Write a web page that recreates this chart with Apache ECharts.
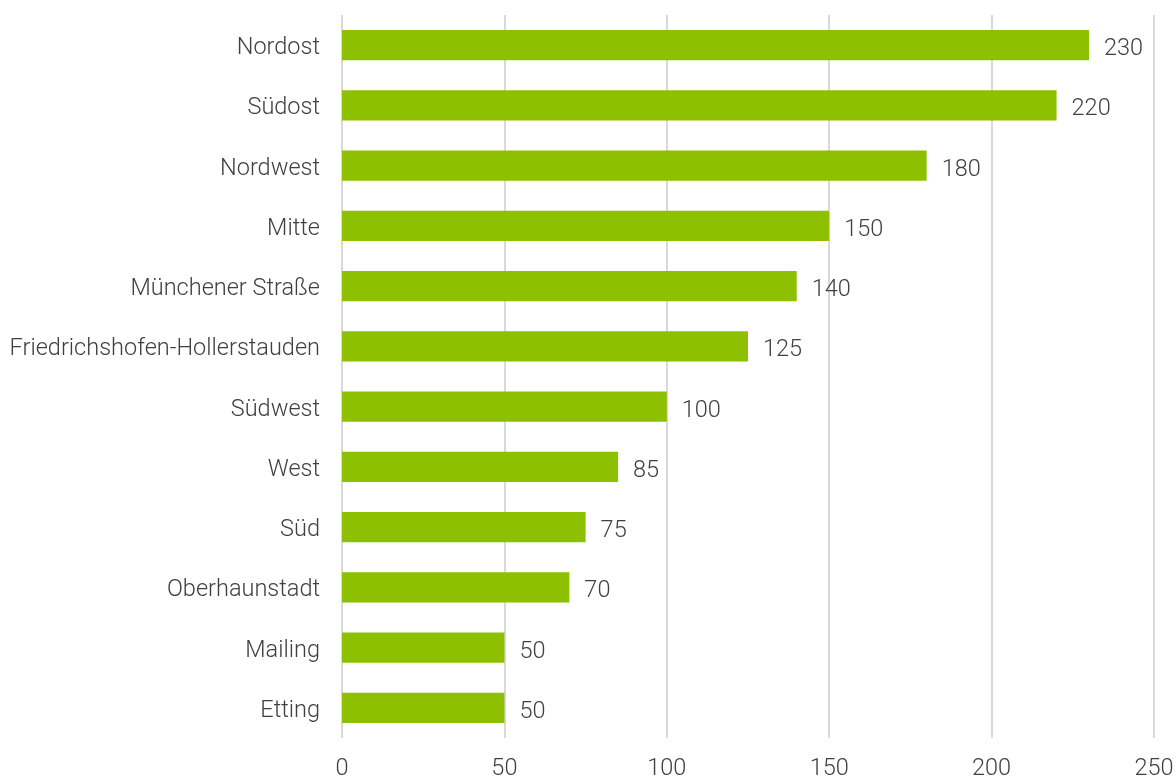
<!DOCTYPE html>
<html>
<head>
<meta charset="utf-8">
<script src="https://cdn.jsdelivr.net/npm/echarts@6/dist/echarts.min.js"></script>
<style>
html, body { margin: 0; padding: 0; background: #fff; }
#chart { width: 1176px; height: 778px; }
</style>
</head>
<body>
<div id="chart"></div>
<script>
var categories = ['Etting', 'Mailing', 'Oberhaunstadt', 'Süd', 'West', 'Südwest',
	'Friedrichshofen-Hollerstauden', 'Münchener Straße', 'Mitte', 'Nordwest', 'Südost', 'Nordost'];
var values = [50, 50, 70, 75, 85, 100, 125, 140, 150, 180, 220, 230];
var xTicks = [0, 50, 100, 150, 200, 250];

var textColor = '#404040';
var font = 'Roboto, "Liberation Sans", sans-serif';

var chart = echarts.init(document.getElementById('chart'));
var option = {
	animation: false,
	grid: {
		left: 342,
		right: 22,
		top: 15,
		bottom: 40,
		outerBoundsMode: 'none'
	},
	xAxis: {
		type: 'value',
		min: xTicks[0],
		max: xTicks[xTicks.length - 1],
		interval: 50,
		axisLine: { show: false },
		axisTick: { show: false },
		splitLine: { show: true, lineStyle: { color: '#d9d9d9', width: 2 } },
		axisLabel: {
			color: textColor,
			fontSize: 23.5,
			fontFamily: font,
			fontWeight: 300,
			margin: 19
		}
	},
	yAxis: {
		type: 'category',
		data: categories,
		axisLine: { show: false },
		axisTick: { show: false },
		axisLabel: {
			color: textColor,
			fontSize: 23.5,
			fontFamily: font,
			fontWeight: 300,
			margin: 22,
			verticalAlign: 'top',
			lineHeight: 6
		}
	},
	series: [{
		type: 'bar',
		data: values,
		barCategoryGap: '50%',
		itemStyle: { color: '#8dc000' },
		label: {
			show: true,
			position: 'right',
			distance: 15,
			offset: [0, 4],
			color: textColor,
			fontSize: 23.5,
			fontFamily: font,
			fontWeight: 300
		}
	}]
};
chart.setOption(option);
</script>
</body>
</html>
